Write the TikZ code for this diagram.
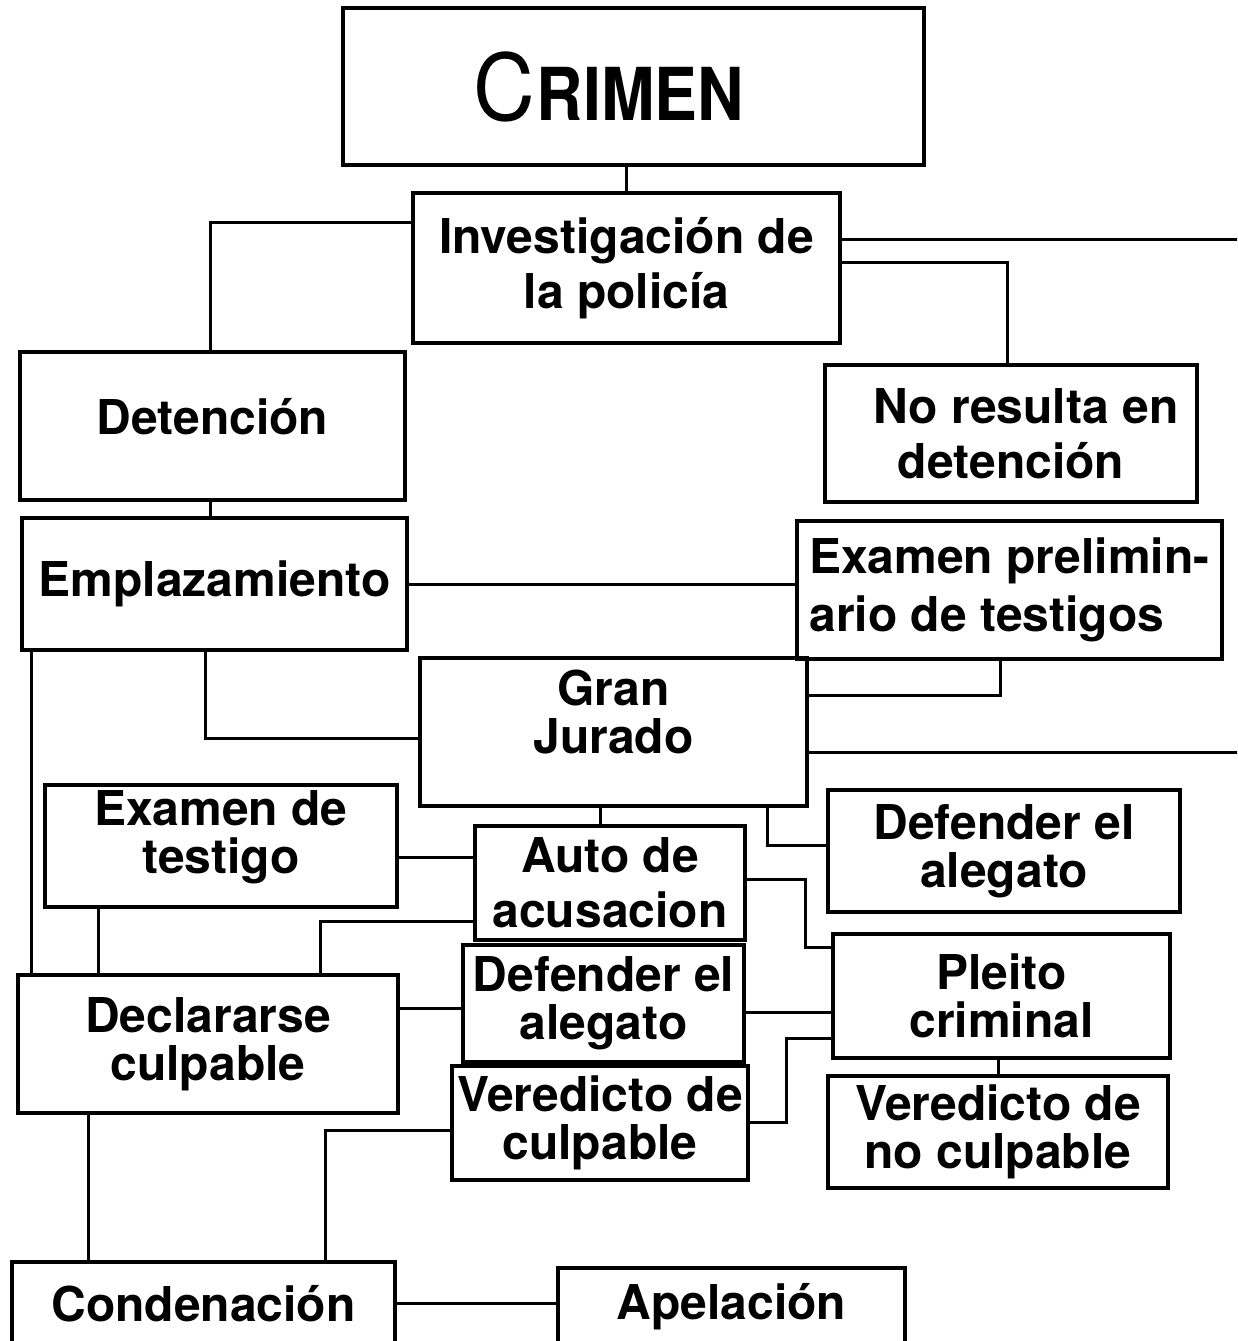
\documentclass[tikz,border=0pt]{standalone}
\usepackage{fontspec}
\setmainfont{TeX Gyre Heros}
\begin{document}
\begin{tikzpicture}[x=1pt,y=-1pt,
  box/.style={draw,line width=3.5pt,inner sep=2pt,align=center,font=\bfseries\fontsize{48}{55}\selectfont},
  tight/.style={font=\bfseries\fontsize{48}{48}\selectfont},
  conn/.style={line width=3pt}]
\useasboundingbox (0,0) rectangle (1237,1341);
\clip (0,0) rectangle (1237,1341);
\fill[white] (0,0) rectangle (1237,1341);
% boxes
\node[box, minimum width=581pt, minimum height=157pt, font=\fontsize{73}{75}\selectfont] (crimen) at (633.5,86.5) {{\mdseries\fontsize{92}{92}\selectfont\scalebox{0.93}[1]{C}}\kern2pt\scalebox{0.88}[1]{\bfseries RIMEN}\hspace*{50pt}};
\node[box, minimum width=427pt, minimum height=150pt] (inv) at (626.5,268) {Investigación de\\la policía};
\node[box, minimum width=385pt, minimum height=148pt] (det) at (212.5,426) {\raisebox{19pt}{Detención}};
\node[box, minimum width=372pt, minimum height=137pt] (nores) at (1011,433.5) {\hspace*{30pt}No resulta en\\detención};
\node[box, minimum width=385pt, minimum height=132pt] (empl) at (214.5,584) {Emplazamiento};
\node[box, minimum width=425pt, minimum height=138pt, align=left, font=\bfseries\fontsize{48}{58}\selectfont] (exprel) at (1009.5,590) {Examen prelimin-\\ario de testigos};
\node[box, tight, minimum width=387pt, minimum height=148pt] (gran) at (613.5,732) {Gran\\Jurado\\[-8pt]\mbox{}};
\node[box, tight, minimum width=352pt, minimum height=122pt] (extest) at (221,846) {Examen de\\testigo\\[-20pt]\mbox{}};
\node[box, minimum width=270pt, minimum height=114pt] (auto) at (610,883) {Auto de\\acusacion};
\node[box, tight, minimum width=352pt, minimum height=122pt] (defR) at (1004,851) {Defender el\\alegato};
\node[box, tight, minimum width=337pt, minimum height=124pt] (pleito) at (1001.5,996) {Pleito\\criminal};
\node[box, tight, minimum width=380pt, minimum height=138pt] (decl) at (208,1044) {Declararse\\culpable};
\node[box, tight, minimum width=281pt, minimum height=117pt] (defM) at (603.5,1003.5) {Defender el\\alegato};
\node[box, tight, minimum width=296pt, minimum height=114pt] (vercul) at (600,1123) {Veredicto de\\culpable};
\node[box, tight, minimum width=340pt, minimum height=112pt] (vernc) at (998,1132) {Veredicto de\\no culpable};
\node[box, minimum width=383pt, minimum height=83pt] (cond) at (203.5,1303.5) {Condenación};
\node[box, minimum width=347pt, minimum height=77pt] (apel) at (731.5,1306.5) {Apelación};
% free ends at the right edge
\coordinate (offA) at (1240,239);
\coordinate (offB) at (1240,752);
% connectors
\draw[conn] (inv.north) -- (inv.north |- crimen.south);
\draw[conn] ([yshift=46pt]inv.west) -| ([xshift=-2.5pt]det.north);
\draw[conn] ([yshift=29pt]inv.east) -- (offA);
\draw[conn] ([yshift=6pt]inv.east) -| ([xshift=-4pt]nores.north);
\draw[conn] ([xshift=-2.5pt]det.south) -- ([xshift=-2.5pt]det.south |- empl.north);
\draw[conn] (empl.east) -- (empl.east -| exprel.west);
\draw[conn] ([xshift=-9.5pt]empl.south) |- ([yshift=-6pt]gran.west);
\draw[conn] ([xshift=11pt]empl.south west) -- ([xshift=11pt]empl.south west |- decl.north);
\draw[conn] ([xshift=-9.5pt]exprel.south) |- ([yshift=37pt]gran.east);
\draw[conn] ([yshift=-20pt]gran.east) -- (offB);
\draw[conn] ([xshift=-10pt]auto.north) -- ([xshift=-10pt]auto.north |- gran.south);
\draw[conn] ([xshift=153.5pt]gran.south) |- ([yshift=6pt]defR.west);
\draw[conn] ([yshift=-11pt]extest.east) -- ([yshift=-11pt]extest.east -| auto.west);
\draw[conn] ([xshift=55pt]extest.south west) -- ([xshift=55pt]extest.south west |- decl.north);
\draw[conn] ([yshift=-38pt]auto.west) -| ([xshift=112pt]decl.north);
\draw[conn] ([yshift=4pt]auto.east) -- ++(59,0) |- ([yshift=49pt]pleito.west);
\draw[conn] ([yshift=36pt]decl.east) -- ([yshift=36pt]decl.east -| defM.west);
\draw[conn] ([yshift=-8.5pt]defM.east) -- ([yshift=-8.5pt]defM.east -| pleito.west);
\draw[conn] ([yshift=1pt]vercul.east) -- ++(37,0) |- ([yshift=-42pt]pleito.west);
\draw[conn] (vernc.north) -- (vernc.north |- pleito.south);
\draw[conn] ([xshift=72pt]decl.south west) -- ([xshift=72pt]decl.south west |- cond.north);
\draw[conn] ([yshift=-7pt]vercul.west) -| ([xshift=121.5pt]cond.north);
\draw[conn] (cond.east) -- (cond.east -| apel.west);
\end{tikzpicture}
\end{document}
